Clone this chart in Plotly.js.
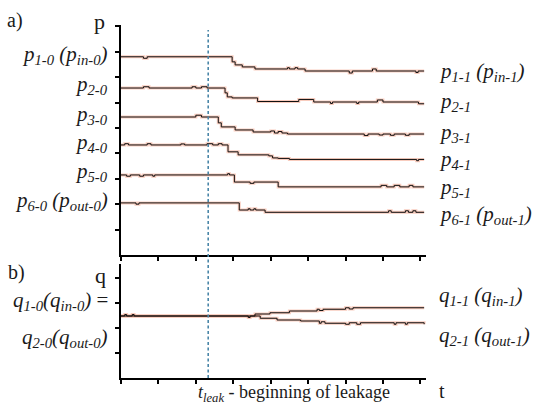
<!DOCTYPE html>
<html><head><meta charset="utf-8">
<script src="https://cdn.plot.ly/plotly-3.0.1.min.js"></script>
<style>html,body{margin:0;padding:0;background:#fff}#c{width:534px;height:405px}</style>
</head><body><div id="c"></div>
<script>
// time (arbitrary units) and pressure/flow levels
const p1_t = [0, 0.6, 0.7, 2.97, 3.05, 3.24, 3.58, 4.45, 4.5, 4.65, 4.72, 4.92, 6.1, 6.18, 6.72, 6.82, 7.88, 7.94, 8.1];
const p1_y = [7.80, 7.74, 7.80, 7.60, 7.48, 7.40, 7.32, 7.37, 7.32, 7.37, 7.32, 7.24, 7.16, 7.24, 7.32, 7.24, 7.18, 7.24, 7.24];
const p2_t = [0, 0.6, 0.75, 1.9, 2.0, 2.15, 2.3, 2.78, 2.84, 2.97, 3.65, 4.75, 5.15, 5.6, 5.65, 6.3, 6.35, 6.85, 7.0, 7.95, 8.1];
const p2_y = [6.57, 6.62, 6.57, 6.62, 6.57, 6.62, 6.57, 6.38, 6.22, 6.18, 6.04, 6.12, 6.02, 5.96, 6.02, 5.96, 6.02, 6.10, 6.02, 5.95, 5.95];
const p3_t = [0, 2.0, 2.15, 2.6, 2.68, 3.05, 3.53, 4.0, 4.1, 4.2, 4.3, 4.45, 6.5, 6.6, 6.9, 7.0, 7.2, 7.3, 7.6, 7.7, 8.1];
const p3_y = [5.43, 5.50, 5.43, 5.20, 5.04, 4.92, 4.84, 4.88, 4.80, 4.86, 4.80, 4.76, 4.70, 4.76, 4.72, 4.76, 4.71, 4.76, 4.71, 4.76, 4.76];
const p4_t = [0, 0.1, 0.2, 0.7, 0.8, 1.6, 1.7, 2.3, 2.45, 2.6, 2.7, 2.86, 3.13, 3.95, 4.05, 4.2, 4.5, 7.9, 7.95, 8.1];
const p4_y = [4.33, 4.38, 4.33, 4.38, 4.33, 4.37, 4.33, 4.38, 4.33, 4.38, 4.33, 4.06, 3.94, 3.90, 3.82, 3.80, 3.76, 3.71, 3.76, 3.76];
const p5_t = [0, 0.15, 0.25, 0.5, 0.6, 0.85, 0.9, 2.85, 2.9, 3.03, 3.45, 3.55, 4.2, 6.95, 7.1, 7.3, 7.45, 7.7, 7.8, 8.1];
const p5_y = [3.15, 3.10, 3.15, 3.10, 3.15, 3.10, 3.15, 3.20, 3.15, 2.87, 2.82, 2.87, 2.68, 2.74, 2.68, 2.74, 2.68, 2.74, 2.68, 2.68];
const p6_t = [0, 0.4, 0.48, 3.16, 3.4, 3.45, 3.55, 3.6, 3.85, 7.15, 7.22, 7.6, 7.68, 7.8, 7.88, 8.1];
const p6_y = [2.05, 2.00, 2.05, 1.77, 1.82, 1.77, 1.82, 1.77, 1.68, 1.74, 1.68, 1.74, 1.68, 1.74, 1.68, 1.68];
const q1_t = [0, 0.1, 0.15, 0.3, 0.35, 3.4, 3.45, 3.58, 3.98, 4.5, 5.24, 5.3, 5.4, 6.0, 6.1, 6.2, 8.1];
const q1_y = [2.48, 2.54, 2.48, 2.54, 2.48, 2.42, 2.48, 2.56, 2.61, 2.68, 2.75, 2.70, 2.75, 2.81, 2.76, 2.81, 2.81];
const q2_t = [0, 3.72, 4.17, 4.8, 5.3, 5.35, 5.45, 6.0, 6.1, 6.3, 6.4, 7.3, 7.35, 7.6, 7.65, 8.1];
const q2_y = [2.48, 2.39, 2.32, 2.28, 2.19, 2.25, 2.19, 2.15, 2.21, 2.15, 2.21, 2.15, 2.21, 2.15, 2.21, 2.15];
const t_leak = 2.33;
const x_ticks = [0, 1, 2, 3, 4, 5, 6, 7, 8];
const pa_ticks = [1, 2, 3, 4, 5, 6, 7, 8, 9];
const pb_ticks = [1, 2, 3, 4];

const leftLabels = ['<i>p<sub>1-0</sub> (p<sub>in-0</sub>)</i>', '<i>p<sub>2-0</sub></i>', '<i>p<sub>3-0</sub></i>', '<i>p<sub>4-0</sub></i>', '<i>p<sub>5-0</sub></i>', '<i>p<sub>6-0</sub> (p<sub>out-0</sub>)</i>'];
const rightLabels = ['<i>p<sub>1-1</sub> (p<sub>in-1</sub>)</i>', '<i>p<sub>2-1</sub></i>', '<i>p<sub>3-1</sub></i>', '<i>p<sub>4-1</sub></i>', '<i>p<sub>5-1</sub></i>', '<i>p<sub>6-1</sub> (p<sub>out-1</sub>)</i>'];

const series = [[p1_t,p1_y,'y'],[p2_t,p2_y,'y'],[p3_t,p3_y,'y'],[p4_t,p4_y,'y'],[p5_t,p5_y,'y'],[p6_t,p6_y,'y'],[q1_t,q1_y,'y2'],[q2_t,q2_y,'y2']];
const traces = [];
series.forEach(s => {
  traces.push({x:s[0], y:s[1], xaxis: s[2]==='y'?'x':'x2', yaxis:s[2], mode:'lines', line:{shape:'hv', color:'rgba(235,110,70,0.35)', width:3}, hoverinfo:'skip'});
});
series.forEach(s => {
  traces.push({x:s[0], y:s[1], xaxis: s[2]==='y'?'x':'x2', yaxis:s[2], mode:'lines', line:{shape:'hv', color:'#111', width:1}, hoverinfo:'skip'});
});

const L = 121, W = 305, B = 378, H = 353;
const px = v => (v - L) / W;
const py = v => (B - v) / H;
const FF = 'Liberation Serif';

const ann = [];
const leftY = [55, 85, 115, 143, 172, 201];
leftLabels.forEach((t, i) => ann.push({text:t, x:px(110), y:py(leftY[i]), xanchor:'right', yanchor:'middle'}));
const rightY = [72, 102, 133, 160, 188, 215];
rightLabels.forEach((t, i) => ann.push({text:t, x:px(437), y:py(rightY[i]), xanchor:'left', yanchor:'middle'}));
ann.push({text:'<i>q<sub>1-0</sub>(q<sub>in-0</sub>)</i> =', x:px(110), y:py(301), xanchor:'right', yanchor:'middle'});
ann.push({text:'<i>q<sub>2-0</sub>(q<sub>out-0</sub>)</i>', x:px(110), y:py(338), xanchor:'right', yanchor:'middle'});
ann.push({text:'<i>q<sub>1-1</sub> (q<sub>in-1</sub>)</i>', x:px(437), y:py(296), xanchor:'left', yanchor:'middle'});
ann.push({text:'<i>q<sub>2-1</sub> (q<sub>out-1</sub>)</i>', x:px(437), y:py(336), xanchor:'left', yanchor:'middle'});
ann.push({text:'a)', x:px(5), y:py(20), xanchor:'left', yanchor:'middle', size:20});
ann.push({text:'b)', x:px(6), y:py(272), xanchor:'left', yanchor:'middle', size:20});
ann.push({text:'p', x:px(92), y:py(21), xanchor:'left', yanchor:'middle', size:22});
ann.push({text:'q', x:px(93), y:py(275), xanchor:'left', yanchor:'middle', size:22});
ann.push({text:'<i>t<sub>leak</sub></i> - beginning of leakage', x:px(196), y:py(393), xanchor:'left', yanchor:'middle', size:18});
ann.push({text:'t', x:px(437), y:py(391), xanchor:'left', yanchor:'middle', size:20});
const annotations = ann.map(a => ({text:a.text, x:a.x, y:a.y, xref:'paper', yref:'paper', xanchor:a.xanchor, yanchor:a.yanchor, showarrow:false, font:{family:FF, size:a.size||21, color:'#1a1a1a'}}));

const axisCommon = {showgrid:false, zeroline:false, showline:true, linecolor:'#000', linewidth:2, ticks:'outside', ticklen:4, tickwidth:2, tickcolor:'#000', showticklabels:false, fixedrange:true};
const layout = {
  width:534, height:405, margin:{l:L, r:534-L-W, t:B-H, b:405-B},
  paper_bgcolor:'#fff', plot_bgcolor:'rgba(0,0,0,0)', showlegend:false,
  font:{family:FF},
  xaxis: Object.assign({}, axisCommon, {range:[0, 8.15], tickvals:x_ticks, anchor:'y'}),
  xaxis2: Object.assign({}, axisCommon, {range:[0, 8.15], tickvals:x_ticks, anchor:'y2', matches:'x'}),
  yaxis: Object.assign({}, axisCommon, {range:[0, 9.05], tickvals:pa_ticks, domain:[(B-255)/H, 1], anchor:'x'}),
  yaxis2: Object.assign({}, axisCommon, {range:[0, 4.56], tickvals:pb_ticks, domain:[0, (B-264)/H], anchor:'x2'}),
  shapes:[{type:'line', xref:'x', yref:'paper', x0:t_leak, x1:t_leak, y0:0, y1:py(30), line:{color:'#4a86a8', width:1.6, dash:'3px,2.5px'}}],
  annotations: annotations
};
Plotly.newPlot('c', traces, layout, {staticPlot:true, displayModeBar:false});
</script></body></html>
